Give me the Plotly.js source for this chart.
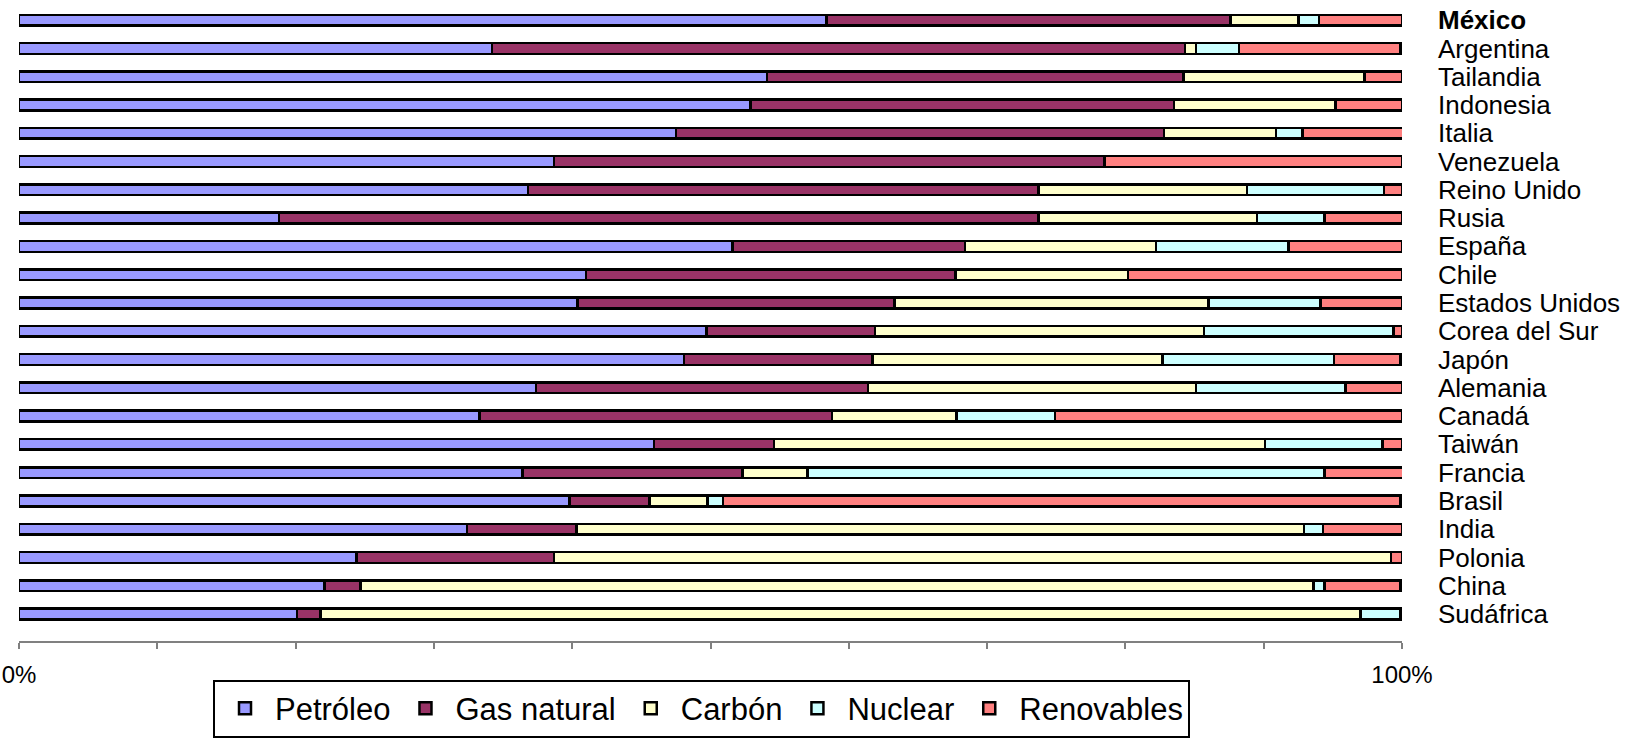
<!DOCTYPE html>
<html>
<head>
<meta charset="utf-8">
<script src="https://cdn.plot.ly/plotly-3.0.1.min.js"></script>
<style>html,body{margin:0;padding:0;background:#fff;}#chart{width:1638px;height:738px;}</style>
</head>
<body>
<div id="chart"></div>
<script>
const countries = ["México","Argentina","Tailandia","Indonesia","Italia","Venezuela","Reino Unido","Rusia","España","Chile","Estados Unidos","Corea del Sur","Japón","Alemania","Canadá","Taiwán","Francia","Brasil","India","Polonia","China","Sudáfrica"];
const petroleo   = [58.4,34.2,54.1,52.9,47.5,38.7,36.8,18.8,51.6,41.0,40.4,49.7,48.1,37.4,33.3,45.9,36.4,39.8,32.4,24.4,22.1,20.1];
const gasNatural = [29.2,50.1,30.1,30.6,35.3,39.8,36.9,54.9,16.8,26.7,22.9,12.2,13.6,24.0,25.5,8.7,15.9,5.8,7.9,14.3,2.6,1.7];
const carbon     = [4.9,0.8,13.1,11.7,8.1,0,15.1,15.8,13.8,12.5,22.7,23.8,21.0,23.7,9.0,35.5,4.7,4.2,52.6,60.5,68.9,75.2];
const nuclear    = [1.5,3.1,0,0,1.9,0,9.9,4.9,9.6,0,8.1,13.7,12.4,10.8,7.1,8.5,37.4,1.1,1.4,0,0.8,2.9];
const renovables = [6.0,11.7,2.7,4.8,7.3,21.5,1.3,5.6,8.2,19.8,5.9,0.6,4.8,4.1,25.1,1.4,5.7,49.0,5.7,0.8,5.5,0.2];
const seriesNames = ["Petróleo","Gas natural","Carbón","Nuclear","Renovables"];
const xTickVals = [0,10,20,30,40,50,60,70,80,90,100];
const xTickText = ["0%","","","","","","","","","","100%"];

const seriesData = [petroleo, gasNatural, carbon, nuclear, renovables];
const colors = ["#9999FF","#993366","#FFFFCC","#CCFFFF","#FF8080"];

const traces = seriesData.map((vals, i) => ({
  type: "bar",
  orientation: "h",
  name: seriesNames[i],
  x: vals,
  y: countries,
  width: 0.38,
  marker: {color: colors[i], line: {color: "#000", width: 2.5}},
  hoverinfo: "skip"
}));

const tickText = countries.map(c => c === "México" ? "<b>" + c + "</b>" : c);

const layout = {
  width: 1638, height: 738,
  margin: {l: 19, r: 236, t: 6, b: 97, pad: 0, autoexpand: false},
  paper_bgcolor: "#fff", plot_bgcolor: "#fff",
  barmode: "stack",
  bargap: 0,
  font: {family: "Liberation Sans, Arial, sans-serif", color: "#000"},
  xaxis: {
    range: [0, 100], autorange: false, fixedrange: true,
    tickmode: "array", tickvals: xTickVals, ticktext: xTickText,
    ticks: "outside", ticklen: 6, tickwidth: 2, tickcolor: "#808080",
    showline: true, linecolor: "#808080", linewidth: 2,
    showgrid: false, zeroline: false,
    tickfont: {size: 24, color: "#000"},
    ticklabelstandoff: 5,
    automargin: false
  },
  yaxis: {
    type: "category",
    categoryorder: "array", categoryarray: countries,
    range: [21.954, -0.5], autorange: false, fixedrange: true,
    side: "right",
    tickmode: "array", tickvals: countries, ticktext: tickText,
    ticks: "", showline: false, showgrid: false, zeroline: false,
    tickfont: {size: 26, color: "#000"},
    ticklabelstandoff: 35,
    automargin: false
  },
  showlegend: true,
  legend: {
    orientation: "h",
    x: 0.4935, xanchor: "center",
    y: -0.152, yanchor: "bottom",
    bordercolor: "#000", borderwidth: 2, bgcolor: "#fff",
    font: {size: 31, color: "#000"},
    traceorder: "normal",
    itemwidth: 50
  }
};

Plotly.newPlot("chart", traces, layout, {displayModeBar: false, staticPlot: true});
</script>
</body>
</html>
